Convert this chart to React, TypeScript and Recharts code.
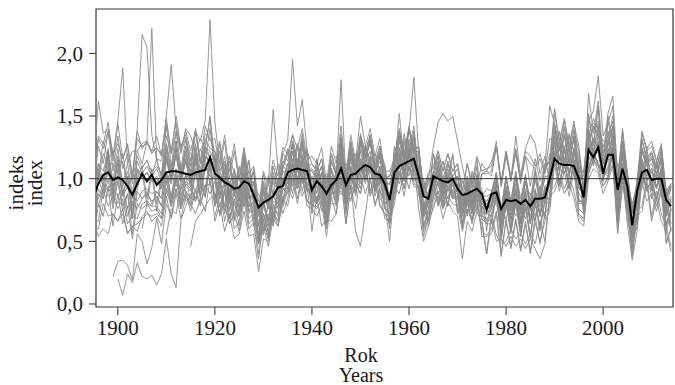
import React from 'react';
import { LineChart, Line, XAxis, YAxis, ReferenceLine, ReferenceArea } from 'recharts';

const FONT = '"Liberation Serif", "Times New Roman", serif';

const firstYear = 1895;
const lastYear = 2014;
const xTicks = [1900, 1920, 1940, 1960, 1980, 2000];
const yTicks = [0, 0.5, 1, 1.5, 2];

// chronology mean (black line), 1895-2014
const meanIndex = [
  .86, .96, 1.03, 1.05, .99, 1.01, .99, .94, .87, .96,
  1.04, .98, 1.03, .95, .99, 1.05, 1.06, 1.06, 1.05, 1.04,
  1.03, 1.05, 1.06, 1.07, 1.17, 1.04, 1.01, .97, .95, .92,
  .93, .98, .96, .87, .77, .81, .83, .86, .93, .94,
  1.05, 1.07, 1.08, 1.07, 1.06, .91, .98, .94, .88, .95,
  .99, 1.08, .95, 1.03, 1.04, 1.08, 1.11, 1.09, 1.04, 1.03,
  .96, .83, 1.05, 1.10, 1.12, 1.14, 1.16, 1.02, .86, .84,
  1.02, 1.00, .98, .97, 1.00, .92, .87, .88, .90, .92,
  .88, .75, .88, .89, .76, .83, .82, .83, .80, .83,
  .78, .84, .84, .85, 1.00, 1.16, 1.12, 1.11, 1.11, 1.10,
  1.00, .85, 1.23, 1.17, 1.25, 1.04, 1.19, 1.19, .91, 1.08,
  .94, .63, .90, 1.05, 1.07, .99, 1.00, 1.00, .83, .78,
];

// individual tree series (gray lines)
const g01 = [
  .98, 1.02, 1.30, 1.15, 1.22, 1.05, 1.20, .95, 1.00, 1.40,
  2.15, 2.05, 1.35, 1.15, 1.02, 1.42, 1.10, 1.38, 1.08, 1.32,
  1.05, 1.38, 1.12, 1.25, 1.48, 1.05, 1.28, .95, 1.18, .86,
  1.06, 1.02, 1.15, .82, .78, .55, .82, .64, 1.00, .80,
  1.00, 1.22, 1.05, 1.18, 1.02, .88, .90, .96, .72, 1.02,
  .92, 1.20, .95, .98, 1.15, 1.05, 1.26, 1.10, 1.12, .96,
  1.00, .66, 1.14, 1.10, 1.30, 1.16, 1.35, .98, .80, .66,
  .98, 1.06, .88, 1.02, .94, .90, .72, .84, .76, .94,
  .78, .66, .76, .92, .58, .86, .62, .85, .60, .84,
  .76, .66, .90, .68, 1.15, 1.20, 1.38, 1.12, 1.36, 1.10,
  1.12, .72, 1.50, 1.26, 1.58, 1.00, 1.45, 1.30, .95, 1.12,
  .85, .52, .95, 1.02, 1.26, .92, 1.14, .94, .82, .60,
];
const g02 = [
  .92, 1.26, 1.12, 1.38, 1.06, 1.34, 1.08, 1.20, .96, 1.22,
  1.12, 1.30, 2.20, 1.16, 1.14, 1.34, 1.20, 1.36, 1.22, 1.32,
  1.10, 1.40, 1.14, 1.42, 1.30, 1.32, 1.08, 1.30, 1.00, 1.22,
  .98, 1.24, 1.04, 1.10, .82, .82, .62, .88, .76, 1.00,
  .92, 1.16, .92, 1.14, .90, .94, .80, .98, .68, 1.00,
  .82, 1.16, .78, 1.10, .88, 1.16, 1.00, 1.14, .92, 1.06,
  .80, .84, .90, 1.20, .98, 1.24, 1.02, 1.06, .70, .82,
  .90, 1.02, .84, .98, .86, .92, .70, .86, .74, .92,
  .68, .64, .64, .88, .50, .80, .56, .80, .54, .76,
  .52, .80, .58, .82, .80, 1.22, .94, 1.16, .92, 1.14,
  .84, .78, 1.08, 1.24, 1.10, 1.02, 1.08, 1.22, .72, 1.08,
  .76, .54, .66, 1.06, .94, .96, .82, .98, .58, .72,
];
const g03 = [
  .96, 1.32, 1.24, 1.38, 1.20, 1.28, 1.16, 1.26, 1.02, 1.32,
  1.26, 1.28, 1.22, 1.34, 1.18, 1.48, 1.20, 1.50, 1.24, 1.38,
  1.22, 1.38, 1.30, 1.46, 2.27, 1.45, 1.12, 1.35, 1.06, 1.28,
  1.00, 1.25, .96, 1.05, .70, .96, .80, 1.05, .92, 1.14,
  1.10, 1.25, 1.12, 1.28, 1.10, 1.06, 1.00, 1.10, .84, 1.14,
  1.02, 1.32, .92, 1.26, 1.02, 1.34, 1.10, 1.35, 1.02, 1.26,
  .98, .95, 1.10, 1.52, 1.12, 1.40, 1.18, 1.20, .86, .96,
  1.05, 1.18, 1.00, 1.14, 1.02, 1.08, .86, 1.02, .88, 1.10,
  .78, .76, .80, .94, .64, .90, .66, .90, .64, .90,
  .66, .90, .70, .94, .90, 1.34, 1.04, 1.26, 1.02, 1.24,
  .92, .88, 1.22, 1.30, 1.26, 1.12, 1.18, 1.32, .80, 1.22,
  .86, .64, .80, 1.14, 1.02, 1.06, .92, 1.08, .72, .84,
];
const g04 = [
  .20, .07, .24, .17, .33,
  .22, .20, .23, .15, .24, .52, .24, .13, .67, .78,
  .88, .82, 1.04, .85, 1.12, .80, 1.02, .74, .92, .66,
  .76, .94, .72, .76, .48, .68, .52, .74, .66, .86,
  .88, 1.00, .92, 1.02, .82, .78, .78, .82, .60, .88,
  .90, .90, .84, .84, .96, .88, 1.12, .88, 1.00, .78,
  .72, .64, .88, 1.06, .98, 1.10, 1.02, .92, .58, .68,
  .82, .90, .76, .86, .80, .78, .58, .76, .66, .78,
  .68, .40, .72, .55, .48, .50, .60, .52, .56, .48,
  .56, .48, .66, .50, .90, .94, 1.04, .92, 1.02, .90,
  .70, .66, 1.04, 1.16, 1.06, .94, 1.02, 1.12, .64, .98,
  .80, .38, .74, .78, 1.00, .70, .90, .72, .62, .46,
];
const g05 = [
  .22, .34, .35, .31, .19, .56,
  .50, .32, .45, .68, .48, .80, .70, .92, .76, .90,
  .78, .92, .80, .95, .88, .98, .70, .90, .64, .84,
  .62, .90, .68, .72, .48, .88, .76, .90, .86, 1.00,
  .96, 1.22, .98, 1.20, .96, 1.02, .88, 1.04, .76, 1.08,
  .88, 1.22, .84, 1.16, .92, 1.22, 1.06, 1.18, .98, 1.10,
  .90, .88, .98, 1.25, 1.04, 1.28, 1.12, 1.10, .76, .90,
  .96, 1.08, .92, 1.05, .94, 1.02, .74, .98, .78, 1.02,
  .86, .92, .90, 1.05, .76, 1.02, .78, 1.02, .76, .98,
  .78, 1.00, .86, 1.00, 1.04, 1.40, 1.14, 1.35, 1.12, 1.34,
  1.00, 1.05, 1.26, 1.42, 1.34, 1.22, 1.26, 1.40, .92, 1.28,
  .96, .76, .86, 1.24, 1.12, 1.16, 1.04, 1.18, .84, .96,
];
const g06 = [
  .46, .66, .72, .78, .84, .88, .72, .90, .70, .80,
  .70, .88, .74, .74, .52, .94, .84, .96, .96, 1.08,
  1.24, 1.12, 1.28, 1.14, 1.24, .92, 1.14, .96, 1.04, .94,
  1.02, 1.28, .98, 1.20, 1.10, 1.30, 1.18, 1.28, 1.10, 1.20,
  1.10, .82, 1.24, 1.18, 1.32, 1.22, 1.42, 1.06, .98, .84,
  1.20, 1.06, 1.14, 1.00, 1.18, .92, 1.00, .88, 1.04, .94,
  1.12, 1.06, 1.14, 1.26, .98, 1.22, 1.02, 1.24, 1.00, 1.22,
  1.18, 1.10, 1.20, 1.06, 1.32, 1.30, 1.36, 1.24, 1.34, 1.22,
  1.20, .88, 1.40, 1.44, 1.42, 1.26, 1.34, 1.46, .98, 1.30,
  1.02, .76, .92, 1.32, 1.14, 1.20, 1.10, 1.22, .88, .94,
];
const g07 = [
  .86, 1.12, 1.06, 1.22, .98, 1.24, .96, 1.12, .88, 1.18,
  1.08, 1.15, 1.02, 1.16, 1.00, 1.28, 1.06, 1.30, 1.04, 1.26,
  1.02, 1.28, 1.06, 1.32, 1.24, 1.22, 1.02, 1.18, .94, 1.08,
  .90, 1.20, .94, 1.05, .72, 1.04, .84, 1.10, .96, 1.20,
  1.30, 1.95, 1.42, 1.63, 1.22, 1.12, 1.06, 1.16, .90, 1.20,
  1.06, 1.32, 1.00, 1.30, 1.08, 1.36, 1.20, 1.34, 1.10, 1.26,
  1.02, 1.02, 1.14, 1.38, 1.20, 1.40, 1.26, 1.24, .92, 1.04,
  1.08, 1.22, 1.06, 1.20, 1.06, 1.12, .90, 1.12, .92, 1.16,
  .72, .72, .70, .85, .54, .82, .60, .82, .58, .80,
  .54, .82, .62, .84, .84, 1.20, .94, 1.15, .92, 1.14,
  .80, .80, 1.10, 1.18, 1.12, 1.02, 1.06, 1.20, .72, 1.08,
  .76, .58, .68, 1.08, .92, .98, .84, 1.00, .64, .76,
];
const g08 = [
  1.00, 1.34, 1.28, 1.45, 1.18, 1.46, 1.88, 1.12, 1.22, 1.22,
  1.28, 1.30, 1.22, 1.24, 1.20, 1.44, 1.22, 1.45, 1.20, 1.40,
  1.34, 1.22, 1.32, 1.24, 1.50, 1.14, 1.30, 1.06, 1.18, 1.04,
  1.00, 1.18, .98, .98, .72, .90, .80, 1.00, .92, 1.12,
  1.22, 1.14, 1.26, 1.14, 1.22, .88, 1.16, .92, 1.02, .98,
  1.04, 1.79, .98, 1.24, 1.04, 1.30, 1.18, 1.28, 1.10, 1.20,
  1.12, .78, 1.26, 1.14, 1.36, 1.18, 1.38, 1.04, 1.00, .80,
  1.20, 1.00, 1.14, .98, 1.20, .88, .98, .86, 1.02, .92,
  .78, .72, .76, .90, .62, .86, .68, .84, .64, .86,
  .64, .86, .70, .90, .96, 1.30, 1.08, 1.26, 1.04, 1.24,
  1.08, .72, 1.38, 1.18, 1.46, .98, 1.32, 1.20, .96, 1.02,
  .84, .56, .80, 1.12, 1.04, 1.06, .94, 1.04, .72, .76,
];
const g09 = [
  .50, .80, .70, .94, .62, .88, .64, .78, .52, .80,
  .76, .80, .74, .76, .68, .90, .78, .92, .76, .88,
  .74, .90, .78, .94, .96, .88, .72, .80, .64, .72,
  .58, .82, .60, .65, .36, .72, .62, .88, .86, 1.06,
  1.02, 1.28, 1.06, 1.24, 1.08, 1.00, .96, 1.05, .80, 1.06,
  .94, 1.25, .88, 1.22, 1.00, 1.28, 1.12, 1.32, 1.02, 1.18,
  .90, .88, 1.06, 1.32, 1.16, 1.38, 1.81, 1.20, .74, .90,
  1.02, 1.14, .92, 1.12, .98, 1.02, .78, 1.00, .80, 1.04,
  .80, .80, .82, .96, .64, .92, .68, .92, .66, .90,
  .66, .92, .72, .94, .98, 1.40, 1.14, 1.35, 1.12, 1.32,
  .96, .92, 1.28, 1.42, 1.36, 1.20, 1.26, 1.42, .82, 1.28,
  .90, .62, .84, 1.22, 1.10, 1.12, 1.00, 1.14, .72, .84,
];
const g10 = [
  .78, .78, .94, .86, .88, .80, .90, .70, .82, .76,
  .84, .88, .82, .86, .78, 1.02, .80, 1.02, .80, .98,
  .94, .84, .96, .86, 1.12, .78, .98, .72, .90, .68,
  .84, .78, .88, .62, .72, .80, 1.02, .86, 1.12, .94,
  1.04, 1.28, 1.06, 1.26, 1.06, 1.08, 1.02, 1.10, .88, 1.14,
  1.18, 1.08, 1.12, 1.06, 1.20, 1.12, 1.26, 1.14, 1.20, 1.06,
  .98, 1.02, 1.04, 1.30, 1.12, 1.32, 1.20, 1.22, .90, 1.00,
  1.25, 1.45, 1.52, 1.46, 1.50, 1.30, 1.10, .92, 1.06, .96,
  .82, .80, .78, 1.00, .72, .92, .74, .92, .72, .90,
  .88, .78, .90, .80, 1.06, 1.10, 1.18, 1.04, 1.16, 1.04,
  1.06, .80, 1.28, 1.10, 1.30, .98, 1.24, 1.12, 1.00, .98,
  .88, .72, .84, 1.10, .98, 1.08, .92, 1.10, .78, .86,
];
const g11 = [
  .72, 1.02, .98, 1.15, .92, 1.14, .86, 1.02, .70, 1.06,
  1.00, 1.05, .98, 1.00, .92, 1.16, 1.04, 1.18, 1.02, 1.14,
  .94, 1.20, 1.00, 1.24, 1.16, 1.15, .92, 1.06, .82, .98,
  .82, 1.05, .84, .90, .56, .72, .56, .80, .70, .92,
  .92, 1.12, .96, 1.08, .94, .84, .80, .88, .64, .94,
  .78, 1.14, .72, 1.06, .90, 1.12, 1.02, 1.14, .90, 1.02,
  .76, .72, .92, 1.14, 1.02, 1.22, 1.06, 1.02, .62, .76,
  .86, .98, .78, .94, .84, .86, .60, .82, .66, .88,
  .74, .72, .78, 1.00, .66, .94, .76, 1.02, .78, 1.04,
  .76, 1.05, .84, 1.08, 1.14, 1.56, 1.30, 1.48, 1.26, 1.46,
  1.10, 1.05, 1.46, 1.54, 1.82, 1.34, 1.44, 1.58, .96, 1.40,
  1.04, .72, .96, 1.38, 1.24, 1.30, 1.14, 1.28, .86, .96,
];
const g12 = [
  .66, .92, .84, 1.08, .80, 1.02, .78, .88, .68, .92,
  1.06, .78, 1.04, .74, .98, .90, 1.04, .94, 1.02, .90,
  .84, 1.06, .88, 1.10, 1.06, 1.02, .84, .96, .76, .88,
  .76, .92, .78, .78, .50, .78, .66, .82, .80, .96,
  1.12, .94, 1.16, .96, 1.12, .74, 1.02, .80, .88, .84,
  .86, 1.16, .80, 1.08, .96, 1.12, 1.06, 1.14, .94, 1.04,
  .98, .64, 1.12, 1.02, 1.20, 1.06, 1.26, .90, .84, .66,
  .94, 1.02, .86, .98, .90, .90, .72, .88, .74, .92,
  .86, .82, .88, 1.04, .72, 1.00, .82, 1.06, .84, 1.02,
  .82, 1.08, .90, 1.10, 1.14, 1.52, 1.28, 1.46, 1.26, 1.44,
  1.26, .92, 1.68, 1.36, 1.62, 1.18, 1.52, 1.66, 1.02, 1.38,
  1.04, .76, .98, 1.36, 1.22, 1.26, 1.14, 1.26, .90, .96,
];
const g13 = [
  1.12, 1.62, 1.36, 1.40, 1.14, 1.44, 1.16, 1.28, 1.02, 1.38,
  1.24, 1.30, 1.20, 1.25, 1.18, 1.50, 1.91, 1.40, 1.26, 1.35,
  1.14, 1.38, 1.12, 1.36, 1.32, 1.22, 1.06, 1.14, .96, 1.06,
  .90, 1.14, .86, .98, .62, .82, .66, .86, .80, .94,
  .96, 1.12, .98, 1.12, .96, .92, .84, .96, .70, 1.00,
  .86, 1.16, .80, 1.08, .94, 1.14, 1.00, 1.18, .90, 1.10,
  .84, .82, .92, 1.18, 1.02, 1.24, 1.06, 1.08, .70, .85,
  .90, 1.05, .82, 1.02, .88, .94, .72, .88, .76, .96,
  .82, .82, .84, 1.05, .74, 1.02, .82, 1.05, .80, 1.02,
  .78, 1.06, .84, 1.08, 1.58, 1.44, 1.22, 1.42, 1.20, 1.40,
  1.06, 1.05, 1.34, 1.48, 1.38, 1.30, 1.30, 1.50, .94, 1.36,
  1.00, .76, .94, 1.30, 1.16, 1.22, 1.08, 1.24, .84, .94,
];
const g14 = [
  .66, .66, .92, .78, .86, .76, .84, .64, .70, .68,
  .80, .82, .78, .78, .72, .98, .78, 1.00, .78, .96,
  .92, .82, .94, .86, 1.12, .78, .92, .66, .84, .60,
  .66, .86, .64, .68, .40, .62, .46, .68, .62, .80,
  .94, .84, .98, .86, .96, .58, .86, .62, .68, .66,
  .72, .98, .64, .94, .76, 1.02, .88, 1.00, .80, .90,
  .82, .50, .94, .88, 1.06, .92, 1.12, .76, .50, .62,
  .78, .86, .68, .82, .74, .70, .36, .66, .58, .74,
  .64, .40, .68, .50, .52, .46, .54, .46, .52, .44,
  .52, .44, .36, .48, .86, .90, 1.00, .88, .96, .84,
  .66, .62, 1.00, 1.08, 1.04, .88, .98, 1.10, .56, .94,
  .76, .40, .70, .74, .96, .66, .84, .66, .58, .42,
];
const g15 = [
  .58, .88, .84, 1.00, .76, .98, .74, .88, .56, .90,
  .84, .90, .80, .86, .78, 1.05, .84, 1.06, .82, 1.04,
  .80, 1.05, .84, 1.08, 1.02, 1.00, .78, .92, .68, .84,
  .70, .98, .74, .82, .50, .72, .58, .78, .72, .92,
  .88, 1.12, .92, 1.14, .90, .86, .80, .90, .62, .94,
  .80, 1.10, .74, 1.06, .86, 1.14, .96, 1.16, .86, 1.02,
  .76, .74, .88, 1.16, 1.00, 1.20, 1.04, 1.02, .62, .76,
  .84, .98, .78, .95, .84, .86, .62, .84, .64, .86,
  .54, .54, .56, .72, .38, .66, .44, .66, .42, .64,
  .40, .65, .50, .66, .74, 1.12, .90, 1.06, .86, 1.06,
  .72, .68, 1.04, 1.15, 1.10, .94, 1.00, 1.20, .58, 1.02,
  .64, .35, .58, .98, .82, .88, .74, .90, .48, .60,
];
const g16 = [
  .60, .60, .80, .70, .72, .66, .76, .56, .62, .58,
  .70, .74, .66, .70, .62, .86, .68, .88, .68, .86,
  .80, .72, .84, .74, 1.00, .66, .80, .58, .72, .52,
  .56, .74, .54, .56, .26, .52, .50, .76, .78, .98,
  1.12, 1.04, 1.16, 1.02, 1.14, .80, 1.06, .84, .90, .88,
  1.06, 1.04, .98, .96, 1.12, 1.02, 1.24, 1.04, 1.14, .94,
  .88, .82, .98, 1.24, 1.06, 1.30, 1.12, 1.10, .74, .86,
  .94, 1.08, .88, 1.04, .94, .96, .74, .92, .78, .98,
  .92, .58, .90, .78, .76, .68, .82, .70, .78, .68,
  .78, .70, .88, .70, 1.08, 1.16, 1.24, 1.08, 1.20, 1.06,
  .94, .88, 1.22, 1.30, 1.26, 1.12, 1.16, 1.36, .80, 1.18,
  1.00, .44, .92, .98, 1.16, .90, 1.10, .90, .84, .64,
];
const g17 = [
  .82, 1.12, .98, 1.24, .92, 1.18, .94, 1.06, .84, 1.14,
  1.04, 1.10, 1.02, 1.08, .98, 1.24, 1.02, 1.25, 1.00, 1.22,
  1.00, 1.24, 1.02, 1.26, 1.18, 1.18, .96, 1.12, .88, 1.04,
  .86, 1.16, .94, 1.08, .76, 1.06, .94, 1.15, 1.02, 1.25,
  1.20, 1.35, 1.24, 1.40, 1.16, 1.18, 1.12, 1.25, .96, 1.26,
  1.12, 1.42, 1.04, 1.35, 1.14, 1.50, 1.26, 1.40, 1.18, 1.32,
  1.06, 1.06, 1.16, 1.40, 1.20, 1.42, 1.22, 1.26, .86, 1.00,
  .96, 1.08, .86, 1.02, .90, .96, .72, .92, .72, .95,
  .70, .68, .66, .88, .54, .80, .58, .82, .56, .80,
  .54, .82, .60, .84, .84, 1.18, .96, 1.12, .96, 1.10,
  .82, .82, 1.06, 1.22, 1.12, 1.05, 1.02, 1.25, .70, 1.10,
  .76, .58, .72, 1.05, .92, .98, .84, .98, .62, .75,
];
const g18 = [
  .84, .84, .96, .90, .92, .86, .94, .76, .86, .82,
  .90, .92, .88, .90, .84, 1.06, .86, 1.08, .86, 1.04,
  .98, .90, 1.02, .92, 1.16, .84, 1.02, .78, .96, .72,
  .92, .82, .92, .68, .76, .66, .78, .70, .90, .78,
  .90, 1.04, .92, 1.04, .90, .88, .82, .90, .72, .94,
  .98, .92, .92, .88, 1.00, .92, 1.10, .90, 1.04, .84,
  .80, .82, .88, 1.10, .92, 1.14, .98, 1.02, .70, .80,
  1.02, .80, .98, .78, 1.00, .72, .86, .70, .90, .74,
  1.04, 1.06, 1.02, 1.26, .96, 1.20, .98, 1.22, .98, 1.18,
  1.12, 1.08, 1.16, 1.04, 1.20, 1.18, 1.28, 1.16, 1.26, 1.14,
  1.18, .90, 1.40, 1.20, 1.42, 1.04, 1.38, 1.18, 1.10, 1.12,
  .98, .80, .94, 1.22, 1.10, 1.16, 1.04, 1.16, .86, .94,
];
const g19 = [
  .66, 1.05, .94, 1.22, .88, 1.15, .86, 1.02, .68, 1.08,
  1.02, 1.04, 1.00, .98, .92, 1.22, .96, 1.24, .98, 1.20,
  .94, 1.22, .98, 1.25, 1.22, 1.14, .96, 1.02, .86, .94,
  .82, 1.05, .84, .86, .52, .84, .66, .92, .84, 1.06,
  1.06, 1.28, 1.08, 1.30, 1.04, .98, .96, 1.04, .78, 1.08,
  .96, 1.30, .86, 1.22, 1.02, 1.28, 1.16, 1.30, 1.06, 1.18,
  .92, .84, 1.06, 1.34, 1.14, 1.40, 1.24, 1.16, .74, .86,
  1.00, 1.10, .88, 1.00, .88, .88, .64, .80, .68, .84,
  .58, .55, .60, .74, .40, .68, .46, .68, .44, .66,
  .42, .70, .48, .72, .78, 1.22, .96, 1.16, .94, 1.15,
  .76, .72, 1.14, 1.25, 1.20, 1.00, 1.10, 1.25, .64, 1.08,
  .68, .50, .62, 1.02, .90, .94, .78, .92, .50, .60,
];
const g20 = [
  1.00, 1.00, 1.20, 1.12, 1.12, 1.06, 1.14, .92, 1.04, 1.00,
  1.10, 1.14, 1.06, 1.10, 1.04, 1.28, 1.06, 1.30, 1.04, 1.26,
  1.20, 1.12, 1.24, 1.14, 1.40, 1.04, 1.22, .98, 1.14, .90,
  1.08, 1.00, 1.06, .78, .76, .58, .72, .62, .86, .72,
  .84, 1.04, .84, 1.04, .82, .80, .76, .84, .62, .88,
  .90, .88, .86, .82, .96, .88, 1.08, .86, .98, .80,
  .72, .70, .84, 1.06, .92, 1.10, .96, .94, .60, .72,
  .96, .78, .96, .78, 1.02, .78, .88, .80, .98, .86,
  .84, .80, .84, .98, .70, .94, .74, .96, .72, .92,
  .88, .80, .94, .80, 1.12, 1.16, 1.26, 1.12, 1.24, 1.10,
  .96, .94, 1.24, 1.32, 1.28, 1.16, 1.22, 1.34, .88, 1.22,
  1.06, .58, 1.00, 1.02, 1.22, .94, 1.14, .96, .92, .74,
];
const g21 = [
  .55, .76, .72, .94, .82,
  .84, 1.08, .86, 1.12, 1.02, 1.02, .86, .95, .74, .90,
  .72, .98, .78, .92, .62, .92, .78, 1.02, .94, 1.10,
  1.06, 1.30, 1.10, 1.32, 1.08, 1.06, 1.00, 1.10, .86, 1.15,
  1.02, 1.32, .94, 1.25, 1.06, 1.32, 1.16, 1.30, 1.08, 1.22,
  .96, .96, 1.10, 1.35, 1.16, 1.40, 1.20, 1.22, .86, .98,
  1.04, 1.18, .96, 1.12, 1.00, 1.02, .78, .96, .82, .98,
  .76, .76, .78, .94, .62, .90, .68, .90, .64, .88,
  .64, .90, .70, .92, .94, 1.30, 1.06, 1.26, 1.04, 1.24,
  .92, .90, 1.20, 1.32, 1.24, 1.14, 1.18, 1.32, .80, 1.20,
  .86, .64, .78, 1.16, 1.02, 1.08, .92, 1.08, .70, .82,
];
const g22 = [
  .70, .86, .90, 1.08, .92,
  1.10, .96, 1.14, .82, .88, .78, .96, 1.55, 1.08, .96,
  .96, 1.10, 1.00, 1.14, .92, .92, .82, .96, .68, .98,
  1.02, 1.00, .92, .92, 1.12, .96, 1.20, .98, 1.10, .90,
  .82, .78, .96, 1.16, 1.06, 1.20, 1.10, 1.04, .68, .82,
  1.06, .88, .98, .84, 1.02, .74, .84, .72, .88, .78,
  .72, .64, .72, .86, .56, .80, .60, .82, .58, .78,
  .72, .68, .80, .68, 1.02, 1.10, 1.18, 1.04, 1.16, 1.02,
  .88, .82, 1.18, 1.28, 1.22, 1.08, 1.14, 1.28, .78, 1.12,
  .96, .40, .90, .92, 1.14, .84, 1.04, .86, .78, .58,
];
const g23 = [
  .60, .80, .78, .90, .84, 1.14, 1.00, 1.20, .98, 1.14,
  .98, 1.15, 1.02, 1.18, 1.12, 1.14, .94, 1.05, .88, .98,
  .82, 1.04, .78, .82, .48, .66, .52, .74, .62, .84,
  .78, 1.00, .80, 1.02, .78, .76, .70, .80, .54, .85,
  .72, 1.02, .64, .95, .58, .46, .72, 1.00, .78, .92,
  .68, .66, .80, 1.04, .86, 1.10, .94, .92, .54, .68,
  .76, .90, .76, .92, .84, .92, .70, .95, .80, 1.02,
  .86, .86, .88, 1.04, .72, 1.00, .78, 1.00, .74, .98,
  .74, 1.00, .80, 1.02, 1.02, 1.42, 1.16, 1.36, 1.14, 1.34,
  1.02, 1.02, 1.32, 1.40, 1.34, 1.25, 1.28, 1.42, .90, 1.30,
  .94, .72, .90, 1.25, 1.12, 1.18, 1.04, 1.18, .80, .92,
];
const g24 = [
  .66, .54, .60, .56, .72, .66, .72, .56, .62, .64,
  .68, .72, .70, .72, .68, .92, .82, .98, .92, 1.02,
  .96, 1.16, .98, 1.18, 1.14, 1.16, .98, 1.08, .90, 1.02,
  .88, 1.12, .90, .96, .70, .92, .76, .98, .90, 1.08,
  1.20, 1.02, 1.24, 1.04, 1.22, .86, 1.10, .90, .98, .92,
  .98, 1.22, .90, 1.18, 1.00, 1.24, 1.14, 1.22, 1.04, 1.14,
  1.08, .76, 1.20, 1.08, 1.28, 1.14, 1.32, .98, .96, .76,
  .98, 1.12, .94, 1.08, .96, 1.02, .80, .98, .84, 1.02,
  .80, .76, .78, .96, .66, .88, .70, .90, .68, .88,
  .68, .90, .72, .92, .94, 1.28, 1.06, 1.22, 1.02, 1.20,
  1.08, .76, 1.34, 1.12, 1.36, .98, 1.30, 1.16, .96, 1.02,
  .86, .62, .80, 1.12, 1.00, 1.06, .94, 1.06, .74, .80,
];
const g25 = [
  .76, 1.08, .94, 1.18, .88, 1.14, .88, 1.00, .78, 1.08,
  1.00, 1.05, .98, 1.02, .94, 1.18, .96, 1.20, .94, 1.16,
  .94, 1.18, .96, 1.22, 1.10, 1.12, .96, 1.05, .84, 1.00,
  .86, 1.08, .94, .98, .72, .98, .84, 1.10, .96, 1.20,
  1.14, 1.35, 1.12, 1.36, 1.10, 1.12, 1.06, 1.16, .92, 1.20,
  1.04, 1.36, .98, 1.30, 1.10, 1.34, 1.22, 1.35, 1.14, 1.26,
  1.00, 1.02, 1.14, 1.38, 1.18, 1.40, 1.24, 1.25, .90, 1.04,
  1.10, 1.22, 1.06, 1.20, 1.06, 1.12, .90, 1.12, .96, 1.18,
  1.06, 1.08, 1.10, 1.30, .94, 1.22, .98, 1.34, 1.02, 1.24,
  1.35, 1.28, 1.04, 1.18, .96, 1.20, .96, 1.15, .92, 1.12,
  .82, .82, 1.08, 1.20, 1.10, 1.06, 1.04, 1.24, .72, 1.10,
  .74, .58, .70, 1.05, .90, 1.00, .84, .98, .62, .76,
];
const g26 = [
  .72, 1.00, .88, 1.12, .84, 1.06, .86, .94, .74, 1.00,
  1.10, .84, 1.08, .80, 1.02, .96, 1.08, .98, 1.06, .94,
  .90, 1.12, .92, 1.14, 1.08, 1.06, .88, .98, .80, .92,
  .78, 1.00, .74, .78, .48, .64, .54, .70, .66, .82,
  1.06, .88, 1.10, .90, 1.08, .72, .96, .74, .82, .80,
  .80, 1.10, .76, 1.02, .88, 1.08, .98, 1.08, .90, 1.00,
  .94, .60, 1.06, .96, 1.12, 1.02, 1.18, .86, .80, .62,
  .88, .96, .80, .92, .86, .86, .66, .84, .72, .88,
  1.04, 1.04, 1.06, 1.26, .94, 1.18, 1.00, 1.20, .96, 1.18,
  .94, 1.16, .98, 1.12, 1.12, 1.44, 1.24, 1.40, 1.22, 1.38,
  1.22, .90, 1.52, 1.28, 1.56, 1.12, 1.50, 1.30, 1.10, 1.16,
  1.00, .74, .92, 1.30, 1.18, 1.20, 1.08, 1.22, .86, .92,
];

const graySeries = [g01, g02, g03, g04, g05, g06, g07, g08, g09, g10, g11, g12, g13,
  g14, g15, g16, g17, g18, g19, g20, g21, g22, g23, g24, g25, g26];
const grayStart = [1895, 1895, 1895, 1900, 1899, 1915, 1895, 1895, 1895, 1895, 1895, 1895, 1895,
  1895, 1895, 1895, 1895, 1895, 1895, 1895, 1910, 1920, 1905, 1895, 1895, 1895];

const data: Record<string, number | null>[] = [];
for (let y = firstYear; y <= lastYear; y++) {
  const row: Record<string, number | null> = { year: y, mean: meanIndex[y - firstYear] };
  graySeries.forEach((s, k) => {
    const j = y - grayStart[k];
    row['g' + k] = j >= 0 && j < s.length ? s[j] : null;
  });
  data.push(row);
}

const X_DOMAIN: [number, number] = [1895.5, 2014.4];
const Y_DOMAIN: [number, number] = [-0.024, 2.354];
const tickStyle = { fontSize: 21, fontFamily: FONT, fill: '#1a1a1a' };
const titleStyle: React.CSSProperties = {
  position: 'absolute', textAlign: 'center', fontFamily: FONT, fontSize: 20,
  lineHeight: '20px', height: 20, color: '#1a1a1a', whiteSpace: 'nowrap',
};

export default function App() {
  return (
    <div style={{ position: 'absolute', left: 0, top: 0, width: 675, height: 385, background: '#fff', overflow: 'hidden' }}>
      <LineChart width={675} height={385} data={data} margin={{ top: 9, right: 2, bottom: 48, left: 0 }}>
        <XAxis
          dataKey="year"
          type="number"
          domain={X_DOMAIN}
          allowDataOverflow
          ticks={xTicks}
          interval={0}
          height={30}
          tickSize={8}
          tickMargin={5}
          axisLine={false}
          tickLine={{ stroke: '#333' }}
          tick={tickStyle}
        />
        <YAxis
          type="number"
          domain={Y_DOMAIN}
          allowDataOverflow
          ticks={yTicks}
          interval={0}
          width={96}
          tickSize={7}
          tickMargin={6}
          axisLine={false}
          tickLine={{ stroke: '#333' }}
          tick={tickStyle}
          tickFormatter={(v: number) => v.toFixed(1).replace('.', ',')}
        />
        {graySeries.map((_, k) => (
          <Line
            key={k}
            dataKey={'g' + k}
            stroke="#8a8a8a"
            strokeWidth={0.9}
            dot={false}
            activeDot={false}
            connectNulls={false}
            isAnimationActive={false}
          />
        ))}
        <ReferenceLine y={1} stroke="#333" strokeWidth={1} />
        <Line dataKey="mean" stroke="#000" strokeWidth={2} dot={false} activeDot={false} isAnimationActive={false} />
        <ReferenceArea
          x1={X_DOMAIN[0]}
          x2={X_DOMAIN[1]}
          y1={Y_DOMAIN[0]}
          y2={Y_DOMAIN[1]}
          fill="none"
          fillOpacity={0}
          stroke="#333"
          strokeWidth={1.2}
          ifOverflow="visible"
        />
      </LineChart>
      <div style={{ ...titleStyle, left: 311, top: 345, width: 100 }}>Rok</div>
      <div style={{ ...titleStyle, left: 311, top: 365, width: 100 }}>Years</div>
      <div
        style={{
          position: 'absolute', left: -33, top: 163, width: 120, height: 40, textAlign: 'center',
          fontFamily: FONT, fontSize: 21, lineHeight: '19px', color: '#1a1a1a',
          transform: 'rotate(-90deg)', transformOrigin: '60px 20px',
        }}
      >
        indeks<br />index
      </div>
    </div>
  );
}
